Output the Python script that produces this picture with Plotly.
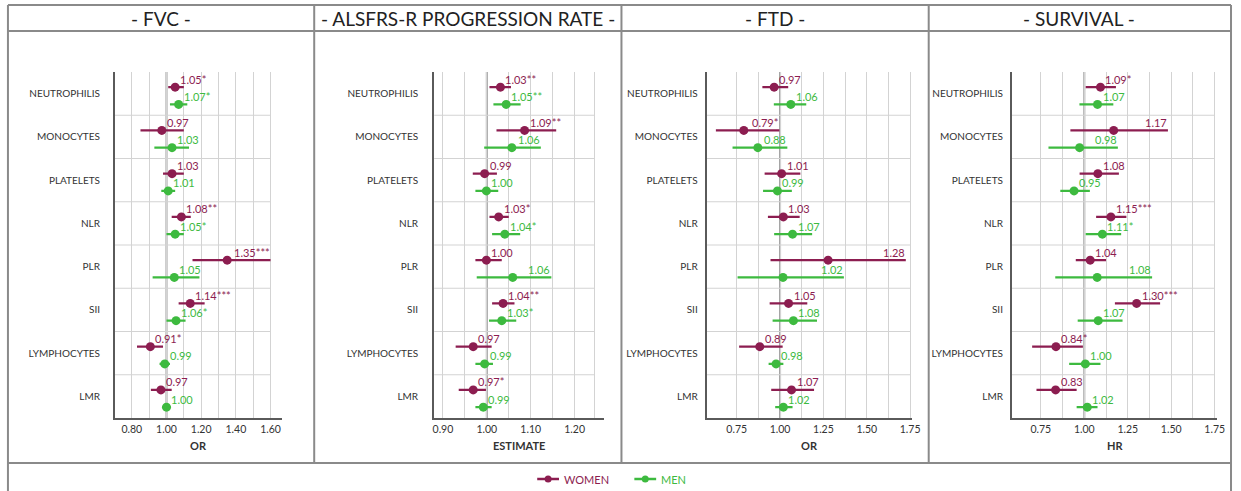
import plotly.graph_objects as go

# ---------------- DATA ----------------
categories = ["NEUTROPHILIS", "MONOCYTES", "PLATELETS", "NLR", "PLR", "SII", "LYMPHOCYTES", "LMR"]

panel_titles = ["- FVC -", "- ALSFRS-R PROGRESSION RATE -", "- FTD -", "- SURVIVAL -"]
axis_titles = ["OR", "ESTIMATE", "OR", "HR"]

# FVC
fvc_women_est = [1.05, 0.973, 1.032, 1.086, 1.35, 1.137, 0.907, 0.968]
fvc_women_lo = [1.01, 0.85, 0.98, 1.03, 1.15, 1.07, 0.83, 0.91]
fvc_women_hi = [1.10, 1.10, 1.10, 1.14, 1.60, 1.22, 0.98, 1.03]
fvc_women_lab = ["1.05*", "0.97", "1.03", "1.08**", "1.35***", "1.14***", "0.91*", "0.97"]
fvc_men_est = [1.07, 1.032, 1.01, 1.05, 1.045, 1.055, 0.99, 1.00]
fvc_men_lo = [1.02, 0.93, 0.97, 1.00, 0.92, 1.00, 0.96, 0.975]
fvc_men_hi = [1.12, 1.13, 1.05, 1.10, 1.19, 1.11, 1.02, 1.025]
fvc_men_lab = ["1.07*", "1.03", "1.01", "1.05*", "1.05", "1.06*", "0.99", "1.00"]

# ALSFRS-R progression rate
als_women_est = [1.031, 1.086, 0.995, 1.027, 0.999, 1.037, 0.969, 0.969]
als_women_lo = [1.006, 1.022, 0.968, 1.006, 0.974, 1.012, 0.929, 0.936]
als_women_hi = [1.055, 1.158, 1.023, 1.050, 1.034, 1.063, 1.011, 0.998]
als_women_lab = ["1.03**", "1.09**", "0.99", "1.03*", "1.00", "1.04**", "0.97", "0.97*"]
als_men_est = [1.044, 1.057, 0.999, 1.041, 1.059, 1.034, 0.995, 0.992]
als_men_lo = [1.015, 0.994, 0.974, 1.012, 0.977, 1.005, 0.974, 0.974]
als_men_hi = [1.077, 1.123, 1.026, 1.076, 1.147, 1.067, 1.014, 1.011]
als_men_lab = ["1.05**", "1.06", "1.00", "1.04*", "1.06", "1.03*", "0.99", "0.99"]

# FTD
ftd_women_est = [0.966, 0.791, 1.009, 1.019, 1.277, 1.049, 0.883, 1.066]
ftd_women_lo = [0.898, 0.630, 0.911, 0.930, 0.945, 0.940, 0.764, 0.949]
ftd_women_hi = [1.047, 0.996, 1.117, 1.113, 1.725, 1.157, 1.015, 1.196]
ftd_women_lab = ["0.97", "0.79*", "1.01", "1.03", "1.28", "1.05", "0.89", "1.07"]
ftd_men_est = [1.062, 0.872, 0.985, 1.072, 1.017, 1.077, 0.977, 1.019]
ftd_men_lo = [0.964, 0.726, 0.902, 0.966, 0.755, 0.957, 0.934, 0.972]
ftd_men_hi = [1.151, 1.042, 1.068, 1.185, 1.368, 1.213, 1.019, 1.072]
ftd_men_lab = ["1.06", "0.88", "0.99", "1.07", "1.02", "1.08", "0.98", "1.02"]

# SURVIVAL
surv_women_est = [1.093, 1.169, 1.078, 1.153, 1.034, 1.301, 0.837, 0.835]
surv_women_lo = [1.008, 0.920, 0.973, 1.068, 0.951, 1.176, 0.700, 0.725]
surv_women_hi = [1.182, 1.481, 1.199, 1.242, 1.125, 1.436, 0.992, 0.956]
surv_women_lab = ["1.09*", "1.17", "1.08", "1.15***", "1.04", "1.30***", "0.84*", "0.83"]
surv_men_est = [1.076, 0.973, 0.941, 1.104, 1.074, 1.080, 1.006, 1.017]
surv_men_lo = [0.972, 0.794, 0.862, 1.008, 0.833, 0.962, 0.913, 0.956]
surv_men_hi = [1.167, 1.193, 1.032, 1.212, 1.390, 1.220, 1.093, 1.076]
surv_men_lab = ["1.07", "0.98", "0.95", "1.11*", "1.08", "1.07", "1.00", "1.02"]

women_data = [
    (fvc_women_est, fvc_women_lo, fvc_women_hi, fvc_women_lab),
    (als_women_est, als_women_lo, als_women_hi, als_women_lab),
    (ftd_women_est, ftd_women_lo, ftd_women_hi, ftd_women_lab),
    (surv_women_est, surv_women_lo, surv_women_hi, surv_women_lab),
]
men_data = [
    (fvc_men_est, fvc_men_lo, fvc_men_hi, fvc_men_lab),
    (als_men_est, als_men_lo, als_men_hi, als_men_lab),
    (ftd_men_est, ftd_men_lo, ftd_men_hi, ftd_men_lab),
    (surv_men_est, surv_men_lo, surv_men_hi, surv_men_lab),
]

# ---------------- LAYOUT / STYLE ----------------
W, H = 1241, 491
FONT = "Lato"
WOMEN_C = "#8C1D50"
MEN_C = "#3DBA3F"
FRAME_C = "#8A8A8A"
GRID_C = "#D3D3D3"
TEXT_C = "#333333"

def PX(x):
    return x / W

def PY(y):
    return 1 - y / H

panel_cfg = [
    dict(dom=(114, 283), rng=(0.703, 1.669), major=[0.8, 1.0, 1.2, 1.4, 1.6],
         minor=[0.9, 1.1, 1.3, 1.5], grid_end=1.6, center=160, standoff=11),
    dict(dom=(436, 607), rng=(0.880, 1.266), major=[0.9, 1.0, 1.1, 1.2],
         minor=[0.95, 1.05, 1.15, 1.245], grid_end=1.245, center=470, standoff=12),
    dict(dom=(711, 918), rng=(0.577, 1.760), major=[0.75, 1.0, 1.25, 1.5, 1.75],
         minor=[0.875, 1.125, 1.375, 1.625], grid_end=1.75, center=780, standoff=5),
    dict(dom=(1019, 1226), rng=(0.584, 1.764), major=[0.75, 1.0, 1.25, 1.5, 1.75],
         minor=[0.875, 1.125, 1.375, 1.625], grid_end=1.75, center=1087, standoff=5),
]
PLOT_TOP, PLOT_BOT = 72, 418
W_OFF, M_OFF = -0.15, 0.25

def text_w(s):
    return sum(6.2 if c.isdigit() else (2.8 if c == "." else 4.6) for c in s)

fig = go.Figure()
annotations = []
shapes = []
layout_axes = {}

for p, cfg in enumerate(panel_cfg):
    sfx = "" if p == 0 else str(p + 1)
    xa, ya = "x" + sfx, "y" + sfx
    px_per_unit = (cfg["dom"][1] - cfg["dom"][0]) / (cfg["rng"][1] - cfg["rng"][0])

    for data, off, col in ((women_data[p], W_OFF, WOMEN_C), (men_data[p], M_OFF, MEN_C)):
        est, lo, hi, lab = data
        ys = [i + off for i in range(len(categories))]
        fig.add_trace(go.Scatter(
            x=est, y=ys, mode="markers", xaxis=xa, yaxis=ya, showlegend=False,
            marker=dict(color=col, size=9),
            error_x=dict(type="data", symmetric=False,
                         array=[h - e for h, e in zip(hi, est)],
                         arrayminus=[e - l for e, l in zip(est, lo)],
                         color=col, thickness=2.2, width=0),
            hoverinfo="skip",
        ))
        for e, h, y, t in zip(est, hi, ys, lab):
            tw = text_w(t)
            if (h - e) * px_per_unit > tw + 6:
                annotations.append(dict(x=h, y=y, xref=xa, yref=ya, text=t, showarrow=False,
                                        xanchor="right", yanchor="middle", yshift=8, xshift=1,
                                        font=dict(family=FONT, size=11, color=col)))
            else:
                annotations.append(dict(x=e, y=y, xref=xa, yref=ya, text=t, showarrow=False,
                                        xanchor="left", yanchor="middle", yshift=8, xshift=3,
                                        font=dict(family=FONT, size=11, color=col)))

    # axes
    layout_axes["xaxis" + sfx] = dict(
        domain=[PX(cfg["dom"][0]), PX(cfg["dom"][1])], range=list(cfg["rng"]),
        anchor=ya, tickvals=cfg["major"], tickformat=".2f",
        showgrid=True, gridcolor=GRID_C, gridwidth=1, zeroline=False,
        showline=True, linecolor="#5A5A5A", linewidth=2, ticks="",
        tickfont=dict(family=FONT, size=10.5, color=TEXT_C),
        minor=dict(tickvals=cfg["minor"], showgrid=True, gridcolor=GRID_C, gridwidth=1),
        fixedrange=True,
    )
    layout_axes["yaxis" + sfx] = dict(
        domain=[PY(PLOT_BOT), PY(PLOT_TOP)], range=[7.5, -0.5], anchor=xa,
        tickvals=list(range(len(categories))), ticktext=categories,
        showgrid=False, zeroline=False, showline=True, linecolor="#5A5A5A", linewidth=2,
        ticks="", ticklabelstandoff=cfg["standoff"],
        tickfont=dict(family=FONT, size=10, color=TEXT_C), fixedrange=True,
    )
    # row separators
    for k in range(len(categories) - 1):
        shapes.append(dict(type="line", xref=xa, yref=ya, x0=cfg["rng"][0], x1=cfg["grid_end"],
                           y0=k + 0.5, y1=k + 0.5, line=dict(color=GRID_C, width=1), layer="below"))
    # reference line at 1
    shapes.append(dict(type="line", xref=xa, yref=ya + " domain", x0=1, x1=1, y0=0, y1=1,
                       line=dict(color="#A0A0A0", width=2), layer="below"))
    # panel title
    annotations.append(dict(x=PX(cfg["center"]), y=PY(18), xref="paper", yref="paper",
                            text=panel_titles[p], showarrow=False, xanchor="center", yanchor="middle",
                            font=dict(family=FONT, size=19, color="#222222")))
    # axis title
    annotations.append(dict(x=PX((cfg["dom"][0] + cfg["dom"][1]) / 2), y=PY(445), xref="paper", yref="paper",
                            text="<b>" + axis_titles[p] + "</b>", showarrow=False,
                            xanchor="center", yanchor="middle",
                            font=dict(family=FONT, size=11, color=TEXT_C)))

# frame
def pline(x0, y0, x1, y1):
    shapes.append(dict(type="line", xref="paper", yref="paper", x0=PX(x0), y0=PY(y0),
                       x1=PX(x1), y1=PY(y1), line=dict(color=FRAME_C, width=2)))

pline(6, 5, 1240, 5)
pline(6, 31, 1240, 31)
pline(6, 463, 1240, 463)
pline(6, 5, 6, 491)
pline(1240, 5, 1240, 491)
for xd in (315, 625, 935):
    pline(xd, 5, xd, 463)

# manual legend
for (x0, name, col) in ((540, "WOMEN", WOMEN_C), (638, "MEN", MEN_C)):
    shapes.append(dict(type="line", xref="paper", yref="paper", x0=PX(x0), x1=PX(x0 + 22),
                       y0=PY(479), y1=PY(479), line=dict(color=col, width=2.5)))
    shapes.append(dict(type="circle", xref="paper", yref="paper", x0=PX(x0 + 7.5), x1=PX(x0 + 14.5),
                       y0=PY(482.5), y1=PY(475.5), fillcolor=col, line=dict(color=col, width=0)))
    annotations.append(dict(x=PX(x0 + 25), y=PY(479), xref="paper", yref="paper", text=name,
                            showarrow=False, xanchor="left", yanchor="middle",
                            font=dict(family=FONT, size=11, color=col)))

fig.update_layout(
    width=W, height=H, margin=dict(l=0, r=0, t=0, b=0),
    paper_bgcolor="white", plot_bgcolor="white",
    annotations=annotations, shapes=shapes, showlegend=False,
    **layout_axes,
)

fig.write_html("out.html", config={"displayModeBar": False})
